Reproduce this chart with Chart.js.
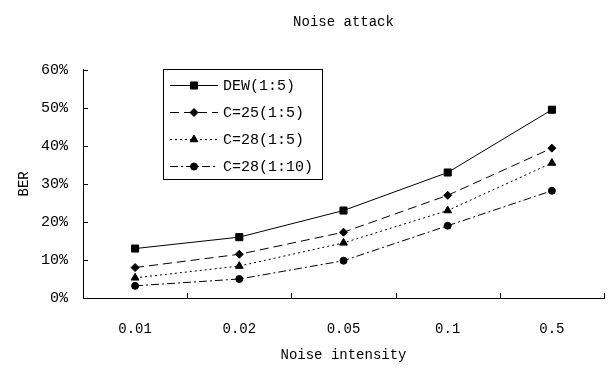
<!DOCTYPE html>
<html>
<head>
<meta charset="utf-8">
<script src="https://cdn.jsdelivr.net/npm/chart.js@4/dist/chart.umd.min.js"></script>
<style>
  html, body { margin: 0; padding: 0; background: #fff; }
  #wrap { width: 610px; height: 370px; }
</style>
</head>
<body>
<div id="wrap"><canvas id="chart" width="610" height="370"></canvas></div>
<script>
// Noise attack BER data
const noiseLevels = ["0.01", "0.02", "0.05", "0.1", "0.5"];
const dewBer = [13, 16, 23, 33, 49.5];
const c25Ber = [8, 11.5, 17.3, 27, 39.4];
const c28Ber = [5.3, 8.4, 14.5, 23, 35.5];
const c28r10Ber = [3.2, 5, 9.8, 19, 28.2];

const FONT = "'Liberation Mono', 'DejaVu Sans Mono', monospace";

// Draw inward tick marks on both axes
const innerTicks = {
  id: "innerTicks",
  afterDraw(chart) {
    const ctx = chart.ctx;
    const x = chart.scales.x;
    const y = chart.scales.y;
    const area = chart.chartArea;
    ctx.save();
    ctx.strokeStyle = "#000";
    ctx.lineWidth = 1;
    ctx.beginPath();
    y.ticks.forEach((t) => {
      const py = Math.round(y.getPixelForValue(t.value)) + 0.5;
      ctx.moveTo(area.left, py);
      ctx.lineTo(area.left + 5, py);
    });
    for (let i = 0; i <= noiseLevels.length; i++) {
      const px = Math.round(x.getPixelForValue(i - 0.5)) + 0.5;
      ctx.moveTo(px, area.bottom);
      ctx.lineTo(px, area.bottom - 5);
    }
    ctx.stroke();
    ctx.restore();
  },
};

// Boxed legend inside the plot area
const boxLegend = {
  id: "boxLegend",
  afterDraw(chart) {
    const ctx = chart.ctx;
    const left = 163, top = 69, right = 322, bottom = 179;
    ctx.save();
    ctx.fillStyle = "#fff";
    ctx.fillRect(left, top, right - left, bottom - top);
    ctx.strokeStyle = "#000";
    ctx.lineWidth = 1;
    ctx.strokeRect(left + 0.5, top + 0.5, right - left, bottom - top);
    chart.data.datasets.forEach((ds, i) => {
      const rowY = 85 + i * 27;
      ctx.beginPath();
      ctx.setLineDash(ds.borderDash || []);
      ctx.strokeStyle = "#000";
      ctx.moveTo(170, rowY + 0.5);
      ctx.lineTo(218, rowY + 0.5);
      ctx.stroke();
      ctx.setLineDash([]);
      ctx.fillStyle = "#000";
      Chart.helpers.drawPoint(ctx, {
        pointStyle: ds.pointStyle,
        radius: ds.pointRadius,
        borderWidth: 1,
      }, 194, rowY + 0.5);
      ctx.fillStyle = "#000";
      ctx.font = "15px " + FONT;
      ctx.textBaseline = "middle";
      ctx.textAlign = "left";
      ctx.fillText(ds.label, 223, rowY + 1);
    });
    ctx.restore();
  },
};

function series(label, data, dash, style, radius) {
  return {
    label: label,
    data: data,
    borderColor: "#000",
    backgroundColor: "#000",
    borderWidth: 1,
    borderDash: dash,
    pointStyle: style,
    pointRadius: radius,
    pointBorderColor: "#000",
    pointBackgroundColor: "#000",
    tension: 0,
    fill: false,
  };
}

new Chart(document.getElementById("chart"), {
  type: "line",
  data: {
    labels: noiseLevels,
    datasets: [
      series("DEW(1:5)", dewBer, [], "rect", 5),
      series("C=25(1:5)", c25Ber, [9, 5], "rectRot", 4),
      series("C=28(1:5)", c28Ber, [2, 3], "triangle", 4.5),
      series("C=28(1:10)", c28r10Ber, [8, 3, 2, 3], "circle", 3.5),
    ],
  },
  options: {
    responsive: false,
    animation: false,
    layout: { padding: { left: 0, right: 3, top: 0, bottom: 0 } },
    scales: {
      x: {
        offset: true,
        grid: { display: false, drawTicks: false },
        border: { display: true, color: "#000", width: 1 },
        ticks: { color: "#000", font: { family: FONT, size: 14 }, padding: 23 },
        title: {
          display: true,
          text: "Noise intensity",
          color: "#000",
          font: { family: FONT, size: 14 },
          padding: { top: 6, bottom: 6 },
        },
        afterFit(scale) { scale.height = 72; },
      },
      y: {
        min: 0,
        max: 60,
        grid: { display: false, drawTicks: false },
        border: { display: true, color: "#000", width: 1 },
        ticks: {
          stepSize: 10,
          color: "#000",
          font: { family: FONT, size: 15 },
          padding: 15,
          callback: (v) => v + "%",
        },
        title: {
          display: true,
          text: "BER",
          color: "#000",
          font: { family: FONT, size: 14 },
          padding: { top: 16, bottom: 4 },
        },
        afterFit(scale) { scale.width = 83; },
      },
    },
    plugins: {
      legend: { display: false },
      tooltip: { enabled: false },
      title: {
        display: true,
        fullSize: false,
        text: "Noise attack",
        color: "#000",
        font: { family: FONT, size: 14, weight: "normal" },
        padding: { top: 14, bottom: 39 },
      },
    },
  },
  plugins: [innerTicks, boxLegend],
});
</script>
</body>
</html>
